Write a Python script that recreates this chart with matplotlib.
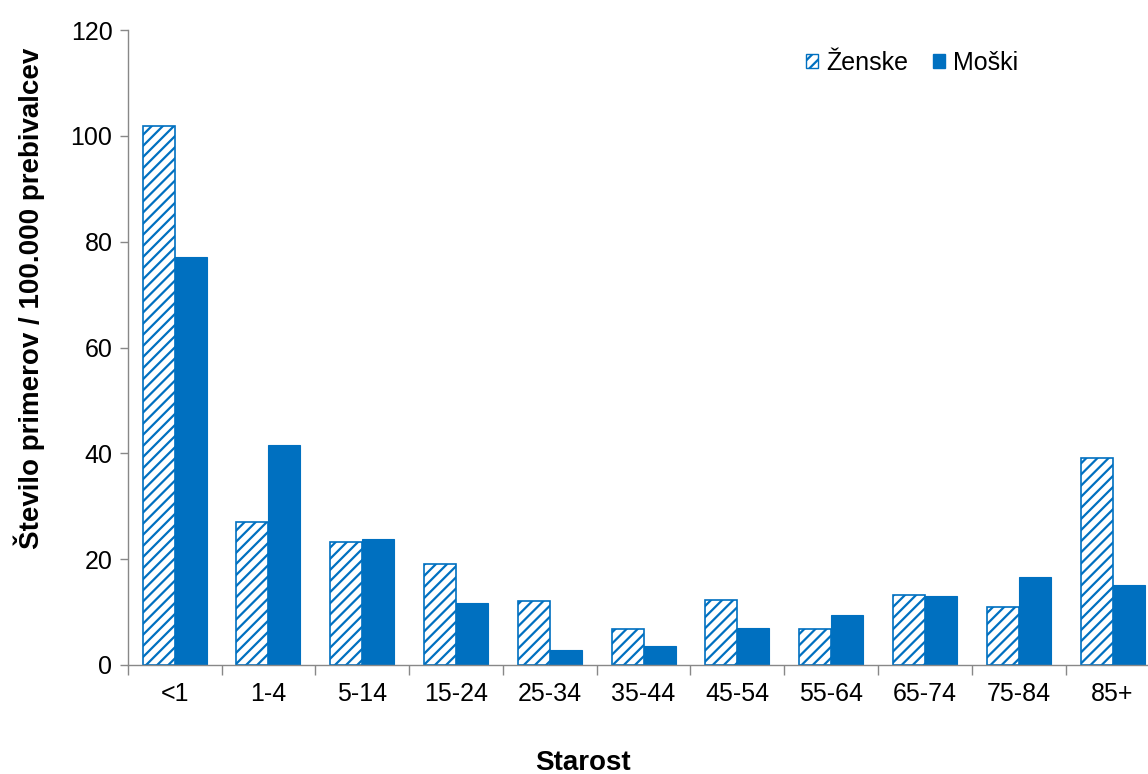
import numpy as np
import matplotlib.pyplot as plt
from matplotlib.patches import Patch

plt.rcParams['font.family'] = ['Liberation Sans', 'DejaVu Sans']
plt.rcParams['hatch.linewidth'] = 1.6
plt.rcParams['hatch.color'] = '#0070C0'

# age groups and rates per 100,000 inhabitants
starost = ['<1', '1-4', '5-14', '15-24', '25-34', '35-44', '45-54', '55-64', '65-74', '75-84', '85+']
zenske = [101.8, 27.0, 23.2, 19.1, 12.1, 6.8, 12.3, 6.8, 13.2, 11.0, 39.1]
moski = [77.1, 41.6, 23.8, 11.7, 2.8, 3.6, 7.0, 9.5, 13.0, 16.6, 15.1]

blue = '#0070C0'
W, H = 1148, 774
fig = plt.figure(figsize=(W / 100, H / 100), dpi=100)
# plot area extends a bit past the right edge, like the cropped original
ax = fig.add_axes([127.7 / W, 1 - 665 / H, 11 * 93.8 / W, 635 / H])

x = np.arange(len(starost))
bw = 32 / 93.8
ax.bar(x - bw / 2, zenske, bw, color='white', edgecolor=blue, hatch='///', linewidth=1.2, label='Ženske')
ax.bar(x + bw / 2, moski, bw, color=blue, edgecolor=blue, linewidth=0.8, label='Moški')

ax.set_xlim(-0.5, len(starost) - 0.5)
ax.set_ylim(0, 120)
ax.set_yticks(range(0, 121, 20))
ax.set_xticks(x)
ax.set_xticklabels(starost)
ax.set_xticks(np.arange(len(starost) + 1) - 0.5, minor=True)
ax.tick_params(axis='x', which='major', length=0, pad=12, labelsize=18)
ax.tick_params(axis='x', which='minor', length=7, color='#888888', width=1)
ax.tick_params(axis='y', length=6, color='#888888', width=1, labelsize=18, pad=5)

for s in ['top', 'right']:
    ax.spines[s].set_visible(False)
for s in ['left', 'bottom']:
    ax.spines[s].set_color('#888888')
    ax.spines[s].set_linewidth(1)

fig.text(29 / W, 1 - 298 / H, 'Število primerov / 100.000 prebivalcev', fontsize=20, fontweight='bold',
         rotation=90, ha='center', va='center')
fig.text(583 / W, 1 - 763 / H, 'Starost', fontsize=20, fontweight='bold', ha='center', va='center')

handles = [Patch(facecolor='white', edgecolor=blue, hatch='///', label='Ženske'),
           Patch(facecolor=blue, edgecolor=blue, label='Moški')]
ax.legend(handles=handles, loc='center', bbox_to_anchor=((912 - 127.7) / (11 * 93.8), (665 - 63) / 635),
          ncol=2, frameon=False, fontsize=18, handlelength=0.5, handleheight=0.5,
          handletextpad=0.3, columnspacing=1.0)

plt.savefig('out.png', dpi=100)
